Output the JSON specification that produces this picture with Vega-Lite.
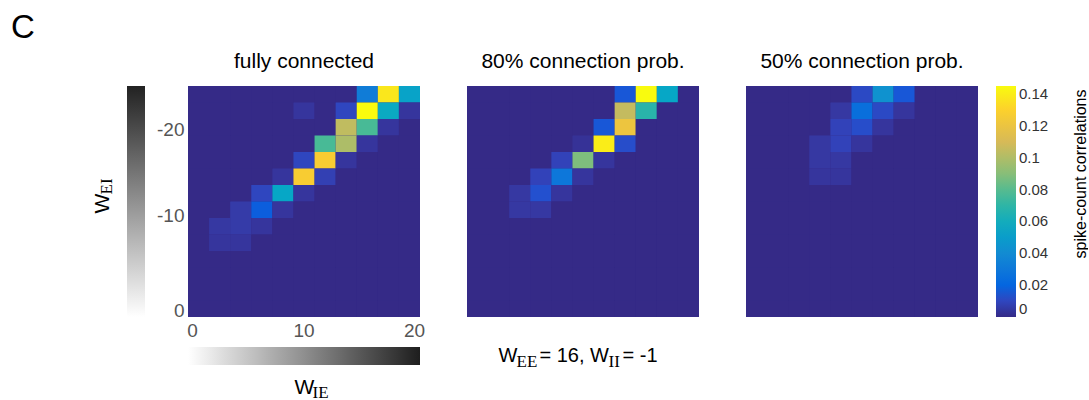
{
"$schema": "https://vega.github.io/schema/vega-lite/v6.json",
"padding": {"left": 11, "top": 12, "right": 0, "bottom": 0},
"background": "white",
"config": {"font": "Liberation Sans", "view": {"stroke": null, "fill": "#352a87"}, "axis": {"grid": false}},
"title": {"text": "C", "anchor": "start", "fontSize": 33, "fontWeight": "normal", "color": "#000000", "dx": -80, "dy": 42, "baseline": "alphabetic", "offset": 22},
"datasets": {
"full": [
{"ie":0,"ei":-26,"c":0},{"ie":2,"ei":-26,"c":0},{"ie":4,"ei":-26,"c":0},{"ie":6,"ei":-26,"c":0},{"ie":8,"ei":-26,"c":0},{"ie":10,"ei":-26,"c":0},{"ie":12,"ei":-26,"c":0},{"ie":14,"ei":-26,"c":0},{"ie":16,"ei":-26,"c":0.032},{"ie":18,"ei":-26,"c":0.138},{"ie":20,"ei":-26,"c":0.053},
{"ie":0,"ei":-24,"c":0},{"ie":2,"ei":-24,"c":0},{"ie":4,"ei":-24,"c":0},{"ie":6,"ei":-24,"c":0},{"ie":8,"ei":-24,"c":0},{"ie":10,"ei":-24,"c":0.004},{"ie":12,"ei":-24,"c":0},{"ie":14,"ei":-24,"c":0.01},{"ie":16,"ei":-24,"c":0.145},{"ie":18,"ei":-24,"c":0.057},{"ie":20,"ei":-24,"c":0.004},
{"ie":0,"ei":-22,"c":0},{"ie":2,"ei":-22,"c":0},{"ie":4,"ei":-22,"c":0},{"ie":6,"ei":-22,"c":0},{"ie":8,"ei":-22,"c":0},{"ie":10,"ei":-22,"c":0},{"ie":12,"ei":-22,"c":0},{"ie":14,"ei":-22,"c":0.104},{"ie":16,"ei":-22,"c":0.077},{"ie":18,"ei":-22,"c":0.004},{"ie":20,"ei":-22,"c":0},
{"ie":0,"ei":-20,"c":0},{"ie":2,"ei":-20,"c":0},{"ie":4,"ei":-20,"c":0},{"ie":6,"ei":-20,"c":0},{"ie":8,"ei":-20,"c":0},{"ie":10,"ei":-20,"c":0},{"ie":12,"ei":-20,"c":0.077},{"ie":14,"ei":-20,"c":0.099},{"ie":16,"ei":-20,"c":0.004},{"ie":18,"ei":-20,"c":0},{"ie":20,"ei":-20,"c":0},
{"ie":0,"ei":-18,"c":0},{"ie":2,"ei":-18,"c":0},{"ie":4,"ei":-18,"c":0},{"ie":6,"ei":-18,"c":0},{"ie":8,"ei":-18,"c":0},{"ie":10,"ei":-18,"c":0.01},{"ie":12,"ei":-18,"c":0.127},{"ie":14,"ei":-18,"c":0.004},{"ie":16,"ei":-18,"c":0},{"ie":18,"ei":-18,"c":0},{"ie":20,"ei":-18,"c":0},
{"ie":0,"ei":-16,"c":0},{"ie":2,"ei":-16,"c":0},{"ie":4,"ei":-16,"c":0},{"ie":6,"ei":-16,"c":0},{"ie":8,"ei":-16,"c":0.004},{"ie":10,"ei":-16,"c":0.127},{"ie":12,"ei":-16,"c":0.008},{"ie":14,"ei":-16,"c":0},{"ie":16,"ei":-16,"c":0},{"ie":18,"ei":-16,"c":0},{"ie":20,"ei":-16,"c":0},
{"ie":0,"ei":-14,"c":0},{"ie":2,"ei":-14,"c":0},{"ie":4,"ei":-14,"c":0},{"ie":6,"ei":-14,"c":0.01},{"ie":8,"ei":-14,"c":0.055},{"ie":10,"ei":-14,"c":0.004},{"ie":12,"ei":-14,"c":0},{"ie":14,"ei":-14,"c":0},{"ie":16,"ei":-14,"c":0},{"ie":18,"ei":-14,"c":0},{"ie":20,"ei":-14,"c":0},
{"ie":0,"ei":-12,"c":0},{"ie":2,"ei":-12,"c":0},{"ie":4,"ei":-12,"c":0.006},{"ie":6,"ei":-12,"c":0.017},{"ie":8,"ei":-12,"c":0.004},{"ie":10,"ei":-12,"c":0},{"ie":12,"ei":-12,"c":0},{"ie":14,"ei":-12,"c":0},{"ie":16,"ei":-12,"c":0},{"ie":18,"ei":-12,"c":0},{"ie":20,"ei":-12,"c":0},
{"ie":0,"ei":-10,"c":0},{"ie":2,"ei":-10,"c":0.005},{"ie":4,"ei":-10,"c":0.006},{"ie":6,"ei":-10,"c":0.004},{"ie":8,"ei":-10,"c":0},{"ie":10,"ei":-10,"c":0},{"ie":12,"ei":-10,"c":0},{"ie":14,"ei":-10,"c":0},{"ie":16,"ei":-10,"c":0},{"ie":18,"ei":-10,"c":0},{"ie":20,"ei":-10,"c":0},
{"ie":0,"ei":-8,"c":0},{"ie":2,"ei":-8,"c":0.004},{"ie":4,"ei":-8,"c":0.004},{"ie":6,"ei":-8,"c":0},{"ie":8,"ei":-8,"c":0},{"ie":10,"ei":-8,"c":0},{"ie":12,"ei":-8,"c":0},{"ie":14,"ei":-8,"c":0},{"ie":16,"ei":-8,"c":0},{"ie":18,"ei":-8,"c":0},{"ie":20,"ei":-8,"c":0},
{"ie":0,"ei":-6,"c":0},{"ie":2,"ei":-6,"c":0},{"ie":4,"ei":-6,"c":0},{"ie":6,"ei":-6,"c":0},{"ie":8,"ei":-6,"c":0},{"ie":10,"ei":-6,"c":0},{"ie":12,"ei":-6,"c":0},{"ie":14,"ei":-6,"c":0},{"ie":16,"ei":-6,"c":0},{"ie":18,"ei":-6,"c":0},{"ie":20,"ei":-6,"c":0},
{"ie":0,"ei":-4,"c":0},{"ie":2,"ei":-4,"c":0},{"ie":4,"ei":-4,"c":0},{"ie":6,"ei":-4,"c":0},{"ie":8,"ei":-4,"c":0},{"ie":10,"ei":-4,"c":0},{"ie":12,"ei":-4,"c":0},{"ie":14,"ei":-4,"c":0},{"ie":16,"ei":-4,"c":0},{"ie":18,"ei":-4,"c":0},{"ie":20,"ei":-4,"c":0},
{"ie":0,"ei":-2,"c":0},{"ie":2,"ei":-2,"c":0},{"ie":4,"ei":-2,"c":0},{"ie":6,"ei":-2,"c":0},{"ie":8,"ei":-2,"c":0},{"ie":10,"ei":-2,"c":0},{"ie":12,"ei":-2,"c":0},{"ie":14,"ei":-2,"c":0},{"ie":16,"ei":-2,"c":0},{"ie":18,"ei":-2,"c":0},{"ie":20,"ei":-2,"c":0},
{"ie":0,"ei":0,"c":0},{"ie":2,"ei":0,"c":0},{"ie":4,"ei":0,"c":0},{"ie":6,"ei":0,"c":0},{"ie":8,"ei":0,"c":0},{"ie":10,"ei":0,"c":0},{"ie":12,"ei":0,"c":0},{"ie":14,"ei":0,"c":0},{"ie":16,"ei":0,"c":0},{"ie":18,"ei":0,"c":0},{"ie":20,"ei":0,"c":0}
],
"p80": [
{"ie":0,"ei":-26,"c":0},{"ie":2,"ei":-26,"c":0},{"ie":4,"ei":-26,"c":0},{"ie":6,"ei":-26,"c":0},{"ie":8,"ei":-26,"c":0},{"ie":10,"ei":-26,"c":0},{"ie":12,"ei":-26,"c":0},{"ie":14,"ei":-26,"c":0.015},{"ie":16,"ei":-26,"c":0.145},{"ie":18,"ei":-26,"c":0.055},{"ie":20,"ei":-26,"c":0},
{"ie":0,"ei":-24,"c":0},{"ie":2,"ei":-24,"c":0},{"ie":4,"ei":-24,"c":0},{"ie":6,"ei":-24,"c":0},{"ie":8,"ei":-24,"c":0},{"ie":10,"ei":-24,"c":0},{"ie":12,"ei":-24,"c":0},{"ie":14,"ei":-24,"c":0.105},{"ie":16,"ei":-24,"c":0.068},{"ie":18,"ei":-24,"c":0},{"ie":20,"ei":-24,"c":0},
{"ie":0,"ei":-22,"c":0},{"ie":2,"ei":-22,"c":0},{"ie":4,"ei":-22,"c":0},{"ie":6,"ei":-22,"c":0},{"ie":8,"ei":-22,"c":0},{"ie":10,"ei":-22,"c":0},{"ie":12,"ei":-22,"c":0.015},{"ie":14,"ei":-22,"c":0.121},{"ie":16,"ei":-22,"c":0},{"ie":18,"ei":-22,"c":0},{"ie":20,"ei":-22,"c":0},
{"ie":0,"ei":-20,"c":0},{"ie":2,"ei":-20,"c":0},{"ie":4,"ei":-20,"c":0},{"ie":6,"ei":-20,"c":0},{"ie":8,"ei":-20,"c":0},{"ie":10,"ei":-20,"c":0.003},{"ie":12,"ei":-20,"c":0.14},{"ie":14,"ei":-20,"c":0.012},{"ie":16,"ei":-20,"c":0},{"ie":18,"ei":-20,"c":0},{"ie":20,"ei":-20,"c":0},
{"ie":0,"ei":-18,"c":0},{"ie":2,"ei":-18,"c":0},{"ie":4,"ei":-18,"c":0},{"ie":6,"ei":-18,"c":0},{"ie":8,"ei":-18,"c":0.009},{"ie":10,"ei":-18,"c":0.088},{"ie":12,"ei":-18,"c":0.004},{"ie":14,"ei":-18,"c":0},{"ie":16,"ei":-18,"c":0},{"ie":18,"ei":-18,"c":0},{"ie":20,"ei":-18,"c":0},
{"ie":0,"ei":-16,"c":0},{"ie":2,"ei":-16,"c":0},{"ie":4,"ei":-16,"c":0},{"ie":6,"ei":-16,"c":0.009},{"ie":8,"ei":-16,"c":0.029},{"ie":10,"ei":-16,"c":0.004},{"ie":12,"ei":-16,"c":0},{"ie":14,"ei":-16,"c":0},{"ie":16,"ei":-16,"c":0},{"ie":18,"ei":-16,"c":0},{"ie":20,"ei":-16,"c":0},
{"ie":0,"ei":-14,"c":0},{"ie":2,"ei":-14,"c":0},{"ie":4,"ei":-14,"c":0.005},{"ie":6,"ei":-14,"c":0.013},{"ie":8,"ei":-14,"c":0.004},{"ie":10,"ei":-14,"c":0},{"ie":12,"ei":-14,"c":0},{"ie":14,"ei":-14,"c":0},{"ie":16,"ei":-14,"c":0},{"ie":18,"ei":-14,"c":0},{"ie":20,"ei":-14,"c":0},
{"ie":0,"ei":-12,"c":0},{"ie":2,"ei":-12,"c":0},{"ie":4,"ei":-12,"c":0.005},{"ie":6,"ei":-12,"c":0.005},{"ie":8,"ei":-12,"c":0},{"ie":10,"ei":-12,"c":0},{"ie":12,"ei":-12,"c":0},{"ie":14,"ei":-12,"c":0},{"ie":16,"ei":-12,"c":0},{"ie":18,"ei":-12,"c":0},{"ie":20,"ei":-12,"c":0},
{"ie":0,"ei":-10,"c":0},{"ie":2,"ei":-10,"c":0},{"ie":4,"ei":-10,"c":0},{"ie":6,"ei":-10,"c":0},{"ie":8,"ei":-10,"c":0},{"ie":10,"ei":-10,"c":0},{"ie":12,"ei":-10,"c":0},{"ie":14,"ei":-10,"c":0},{"ie":16,"ei":-10,"c":0},{"ie":18,"ei":-10,"c":0},{"ie":20,"ei":-10,"c":0},
{"ie":0,"ei":-8,"c":0},{"ie":2,"ei":-8,"c":0},{"ie":4,"ei":-8,"c":0},{"ie":6,"ei":-8,"c":0},{"ie":8,"ei":-8,"c":0},{"ie":10,"ei":-8,"c":0},{"ie":12,"ei":-8,"c":0},{"ie":14,"ei":-8,"c":0},{"ie":16,"ei":-8,"c":0},{"ie":18,"ei":-8,"c":0},{"ie":20,"ei":-8,"c":0},
{"ie":0,"ei":-6,"c":0},{"ie":2,"ei":-6,"c":0},{"ie":4,"ei":-6,"c":0},{"ie":6,"ei":-6,"c":0},{"ie":8,"ei":-6,"c":0},{"ie":10,"ei":-6,"c":0},{"ie":12,"ei":-6,"c":0},{"ie":14,"ei":-6,"c":0},{"ie":16,"ei":-6,"c":0},{"ie":18,"ei":-6,"c":0},{"ie":20,"ei":-6,"c":0},
{"ie":0,"ei":-4,"c":0},{"ie":2,"ei":-4,"c":0},{"ie":4,"ei":-4,"c":0},{"ie":6,"ei":-4,"c":0},{"ie":8,"ei":-4,"c":0},{"ie":10,"ei":-4,"c":0},{"ie":12,"ei":-4,"c":0},{"ie":14,"ei":-4,"c":0},{"ie":16,"ei":-4,"c":0},{"ie":18,"ei":-4,"c":0},{"ie":20,"ei":-4,"c":0},
{"ie":0,"ei":-2,"c":0},{"ie":2,"ei":-2,"c":0},{"ie":4,"ei":-2,"c":0},{"ie":6,"ei":-2,"c":0},{"ie":8,"ei":-2,"c":0},{"ie":10,"ei":-2,"c":0},{"ie":12,"ei":-2,"c":0},{"ie":14,"ei":-2,"c":0},{"ie":16,"ei":-2,"c":0},{"ie":18,"ei":-2,"c":0},{"ie":20,"ei":-2,"c":0},
{"ie":0,"ei":0,"c":0},{"ie":2,"ei":0,"c":0},{"ie":4,"ei":0,"c":0},{"ie":6,"ei":0,"c":0},{"ie":8,"ei":0,"c":0},{"ie":10,"ei":0,"c":0},{"ie":12,"ei":0,"c":0},{"ie":14,"ei":0,"c":0},{"ie":16,"ei":0,"c":0},{"ie":18,"ei":0,"c":0},{"ie":20,"ei":0,"c":0}
],
"p50": [
{"ie":0,"ei":-26,"c":0},{"ie":2,"ei":-26,"c":0},{"ie":4,"ei":-26,"c":0},{"ie":6,"ei":-26,"c":0},{"ie":8,"ei":-26,"c":0},{"ie":10,"ei":-26,"c":0.011},{"ie":12,"ei":-26,"c":0.044},{"ie":14,"ei":-26,"c":0.015},{"ie":16,"ei":-26,"c":0},{"ie":18,"ei":-26,"c":0},{"ie":20,"ei":-26,"c":0},
{"ie":0,"ei":-24,"c":0},{"ie":2,"ei":-24,"c":0},{"ie":4,"ei":-24,"c":0},{"ie":6,"ei":-24,"c":0},{"ie":8,"ei":-24,"c":0.005},{"ie":10,"ei":-24,"c":0.025},{"ie":12,"ei":-24,"c":0.011},{"ie":14,"ei":-24,"c":0.004},{"ie":16,"ei":-24,"c":0},{"ie":18,"ei":-24,"c":0},{"ie":20,"ei":-24,"c":0},
{"ie":0,"ei":-22,"c":0},{"ie":2,"ei":-22,"c":0},{"ie":4,"ei":-22,"c":0},{"ie":6,"ei":-22,"c":0},{"ie":8,"ei":-22,"c":0.009},{"ie":10,"ei":-22,"c":0.012},{"ie":12,"ei":-22,"c":0.004},{"ie":14,"ei":-22,"c":0},{"ie":16,"ei":-22,"c":0},{"ie":18,"ei":-22,"c":0},{"ie":20,"ei":-22,"c":0},
{"ie":0,"ei":-20,"c":0},{"ie":2,"ei":-20,"c":0},{"ie":4,"ei":-20,"c":0},{"ie":6,"ei":-20,"c":0.005},{"ie":8,"ei":-20,"c":0.009},{"ie":10,"ei":-20,"c":0.004},{"ie":12,"ei":-20,"c":0},{"ie":14,"ei":-20,"c":0},{"ie":16,"ei":-20,"c":0},{"ie":18,"ei":-20,"c":0},{"ie":20,"ei":-20,"c":0},
{"ie":0,"ei":-18,"c":0},{"ie":2,"ei":-18,"c":0},{"ie":4,"ei":-18,"c":0},{"ie":6,"ei":-18,"c":0.005},{"ie":8,"ei":-18,"c":0.005},{"ie":10,"ei":-18,"c":0},{"ie":12,"ei":-18,"c":0},{"ie":14,"ei":-18,"c":0},{"ie":16,"ei":-18,"c":0},{"ie":18,"ei":-18,"c":0},{"ie":20,"ei":-18,"c":0},
{"ie":0,"ei":-16,"c":0},{"ie":2,"ei":-16,"c":0},{"ie":4,"ei":-16,"c":0},{"ie":6,"ei":-16,"c":0.004},{"ie":8,"ei":-16,"c":0.004},{"ie":10,"ei":-16,"c":0},{"ie":12,"ei":-16,"c":0},{"ie":14,"ei":-16,"c":0},{"ie":16,"ei":-16,"c":0},{"ie":18,"ei":-16,"c":0},{"ie":20,"ei":-16,"c":0},
{"ie":0,"ei":-14,"c":0},{"ie":2,"ei":-14,"c":0},{"ie":4,"ei":-14,"c":0},{"ie":6,"ei":-14,"c":0},{"ie":8,"ei":-14,"c":0},{"ie":10,"ei":-14,"c":0},{"ie":12,"ei":-14,"c":0},{"ie":14,"ei":-14,"c":0},{"ie":16,"ei":-14,"c":0},{"ie":18,"ei":-14,"c":0},{"ie":20,"ei":-14,"c":0},
{"ie":0,"ei":-12,"c":0},{"ie":2,"ei":-12,"c":0},{"ie":4,"ei":-12,"c":0},{"ie":6,"ei":-12,"c":0},{"ie":8,"ei":-12,"c":0},{"ie":10,"ei":-12,"c":0},{"ie":12,"ei":-12,"c":0},{"ie":14,"ei":-12,"c":0},{"ie":16,"ei":-12,"c":0},{"ie":18,"ei":-12,"c":0},{"ie":20,"ei":-12,"c":0},
{"ie":0,"ei":-10,"c":0},{"ie":2,"ei":-10,"c":0},{"ie":4,"ei":-10,"c":0},{"ie":6,"ei":-10,"c":0},{"ie":8,"ei":-10,"c":0},{"ie":10,"ei":-10,"c":0},{"ie":12,"ei":-10,"c":0},{"ie":14,"ei":-10,"c":0},{"ie":16,"ei":-10,"c":0},{"ie":18,"ei":-10,"c":0},{"ie":20,"ei":-10,"c":0},
{"ie":0,"ei":-8,"c":0},{"ie":2,"ei":-8,"c":0},{"ie":4,"ei":-8,"c":0},{"ie":6,"ei":-8,"c":0},{"ie":8,"ei":-8,"c":0},{"ie":10,"ei":-8,"c":0},{"ie":12,"ei":-8,"c":0},{"ie":14,"ei":-8,"c":0},{"ie":16,"ei":-8,"c":0},{"ie":18,"ei":-8,"c":0},{"ie":20,"ei":-8,"c":0},
{"ie":0,"ei":-6,"c":0},{"ie":2,"ei":-6,"c":0},{"ie":4,"ei":-6,"c":0},{"ie":6,"ei":-6,"c":0},{"ie":8,"ei":-6,"c":0},{"ie":10,"ei":-6,"c":0},{"ie":12,"ei":-6,"c":0},{"ie":14,"ei":-6,"c":0},{"ie":16,"ei":-6,"c":0},{"ie":18,"ei":-6,"c":0},{"ie":20,"ei":-6,"c":0},
{"ie":0,"ei":-4,"c":0},{"ie":2,"ei":-4,"c":0},{"ie":4,"ei":-4,"c":0},{"ie":6,"ei":-4,"c":0},{"ie":8,"ei":-4,"c":0},{"ie":10,"ei":-4,"c":0},{"ie":12,"ei":-4,"c":0},{"ie":14,"ei":-4,"c":0},{"ie":16,"ei":-4,"c":0},{"ie":18,"ei":-4,"c":0},{"ie":20,"ei":-4,"c":0},
{"ie":0,"ei":-2,"c":0},{"ie":2,"ei":-2,"c":0},{"ie":4,"ei":-2,"c":0},{"ie":6,"ei":-2,"c":0},{"ie":8,"ei":-2,"c":0},{"ie":10,"ei":-2,"c":0},{"ie":12,"ei":-2,"c":0},{"ie":14,"ei":-2,"c":0},{"ie":16,"ei":-2,"c":0},{"ie":18,"ei":-2,"c":0},{"ie":20,"ei":-2,"c":0},
{"ie":0,"ei":0,"c":0},{"ie":2,"ei":0,"c":0},{"ie":4,"ei":0,"c":0},{"ie":6,"ei":0,"c":0},{"ie":8,"ei":0,"c":0},{"ie":10,"ei":0,"c":0},{"ie":12,"ei":0,"c":0},{"ie":14,"ei":0,"c":0},{"ie":16,"ei":0,"c":0},{"ie":18,"ei":0,"c":0},{"ie":20,"ei":0,"c":0}
]
},
"spacing": 47,
"bounds": "flush",
"resolve": {"scale": {"fill": "independent", "stroke": "independent"}, "legend": {"fill": "independent", "stroke": "independent"}},
"hconcat": [
{
"width": 232, "height": 231,
"title": {"text": "fully connected", "fontSize": 21, "fontWeight": "normal", "color": "#000000", "anchor": "middle", "frame": "group", "baseline": "alphabetic", "offset": -3},
"data": {"name": "full"},
"resolve": {"scale": {"x": "independent", "y": "independent"}},
"layer": [
{"mark": {"type": "rect"},
 "encoding": {
  "x": {"field": "ie", "type": "ordinal", "scale": {"domain": [0,2,4,6,8,10,12,14,16,18,20], "paddingInner": 0, "paddingOuter": 0},
        "axis": {"orient": "bottom", "values": [0,10,20], "labelAngle": 0, "labelFontSize": 19, "labelColor": "#555555", "ticks": false, "tickSize": 0, "domain": false, "labelPadding": 4,
                 "labelOffset": {"condition": [{"test": "datum.value === 0", "value": -6}, {"test": "datum.value === 20", "value": 5}], "value": 0},
                 "title": "W", "titleFontSize": 21, "titleFontWeight": "normal", "titleColor": "#000000", "titleX": 106, "titleY": 76, "titleAlign": "left", "titleBaseline": "alphabetic", "titleAngle": 0}},
  "y": {"field": "ei", "type": "ordinal", "scale": {"domain": [-26,-24,-22,-20,-18,-16,-14,-12,-10,-8,-6,-4,-2,0], "paddingInner": 0, "paddingOuter": 0},
        "axis": {"orient": "left", "values": [0,-10,-20], "labelFontSize": 19, "labelColor": "#555555", "ticks": false, "tickSize": 0, "domain": false, "labelPadding": 4,
                 "labelOffset": {"condition": [{"test": "datum.value === -10", "value": -10}, {"test": "datum.value === -20", "value": -14}], "value": 2},
                 "title": "W", "titleFontSize": 21, "titleFontWeight": "normal", "titleColor": "#000000", "titleX": -80, "titleY": 127, "titleAlign": "left", "titleBaseline": "alphabetic", "titleAngle": 270}},
  "color": {"field": "c", "type": "quantitative",
            "scale": {"domain": [0,0.0046,0.0092,0.0138,0.0184,0.0368,0.0552,0.0737,0.0921,0.1105,0.1289,0.145], "range": ["#352a87","#3637a0","#3243ba","#2053d4","#0363e1","#1485d4","#06a7c6","#38b99e","#92bf73","#d9ba56","#fcce2e","#f9fb0e"], "interpolate": "rgb"},
            "legend": {"orient": "none", "legendX": 808, "legendY": 0, "direction": "vertical", "gradientLength": 231, "gradientThickness": 20, "gradientStrokeWidth": 0, "values": [0,0.02,0.04,0.06,0.08,0.1,0.12,0.14], "format": ".2~f", "labelFontSize": 15, "labelColor": "#333333", "labelOffset": 3, "title": null}}
 }},
{"mark": {"type": "rect", "fillOpacity": 0, "strokeOpacity": 0},
 "encoding": {
  "x": {"field": "ie", "type": "ordinal", "scale": {"domain": [0,2,4,6,8,10,12,14,16,18,20], "paddingInner": 0, "paddingOuter": 0},
        "axis": {"orient": "top", "labels": false, "ticks": false, "domain": false, "title": "IE", "titleFont": "Liberation Serif", "titleFontSize": 17, "titleFontWeight": "normal", "titleColor": "#000000", "titleX": 124, "titleY": 311, "titleAlign": "left", "titleBaseline": "alphabetic", "titleAngle": 0}},
  "y": {"field": "ei", "type": "ordinal", "scale": {"domain": [-26,-24,-22,-20,-18,-16,-14,-12,-10,-8,-6,-4,-2,0], "paddingInner": 0, "paddingOuter": 0},
        "axis": {"orient": "right", "labels": false, "ticks": false, "domain": false, "title": "EI", "titleFont": "Liberation Serif", "titleFontSize": 17, "titleFontWeight": "normal", "titleColor": "#000000", "titleX": -309, "titleY": 108, "titleAlign": "left", "titleBaseline": "alphabetic", "titleAngle": 270}},
  "fill": {"field": "ei", "type": "quantitative", "scale": {"domain": [0, -26], "range": ["#ffffff", "#222222"], "interpolate": "rgb"},
           "legend": {"orient": "none", "legendX": -61, "legendY": 0, "direction": "vertical", "gradientLength": 231, "gradientThickness": 18, "gradientStrokeWidth": 0, "title": null, "labelExpr": "''"}},
  "stroke": {"field": "ie", "type": "quantitative", "scale": {"domain": [0, 20], "range": ["#ffffff", "#1e1e1e"], "interpolate": "rgb"},
           "legend": {"orient": "none", "legendX": 0, "legendY": 261, "direction": "horizontal", "gradientLength": 232, "gradientThickness": 18, "gradientStrokeWidth": 0, "title": null, "labelExpr": "''"}}
 }}
]
},
{
"width": 232, "height": 231,
"title": {"text": "80% connection prob.", "fontSize": 21, "fontWeight": "normal", "color": "#000000", "anchor": "middle", "frame": "group", "baseline": "alphabetic", "offset": -3},
"data": {"name": "p80"},
"resolve": {"scale": {"x": "independent", "y": "independent"}},
"layer": [
{"mark": {"type": "rect"},
 "encoding": {
  "x": {"field": "ie", "type": "ordinal", "scale": {"domain": [0,2,4,6,8,10,12,14,16,18,20], "paddingInner": 0, "paddingOuter": 0},
        "axis": {"orient": "bottom", "labels": false, "ticks": false, "domain": false, "title": "W", "titleFontSize": 20, "titleFontWeight": "normal", "titleColor": "#000000", "titleX": 31, "titleY": 44, "titleAlign": "left", "titleBaseline": "alphabetic", "titleAngle": 0}},
  "y": {"field": "ei", "type": "ordinal", "scale": {"domain": [-26,-24,-22,-20,-18,-16,-14,-12,-10,-8,-6,-4,-2,0], "paddingInner": 0, "paddingOuter": 0},
        "axis": {"orient": "left", "labels": false, "ticks": false, "domain": false, "title": "EE", "titleFont": "Liberation Serif", "titleFontSize": 17, "titleFontWeight": "normal", "titleColor": "#000000", "titleX": 49, "titleY": 280, "titleAlign": "left", "titleBaseline": "alphabetic", "titleAngle": 0}},
  "color": {"field": "c", "type": "quantitative",
            "scale": {"domain": [0,0.0046,0.0092,0.0138,0.0184,0.0368,0.0552,0.0737,0.0921,0.1105,0.1289,0.145], "range": ["#352a87","#3637a0","#3243ba","#2053d4","#0363e1","#1485d4","#06a7c6","#38b99e","#92bf73","#d9ba56","#fcce2e","#f9fb0e"], "interpolate": "rgb"},
            "legend": {"orient": "none", "legendX": 808, "legendY": 0, "direction": "vertical", "gradientLength": 231, "gradientThickness": 20, "gradientStrokeWidth": 0, "values": [0,0.02,0.04,0.06,0.08,0.1,0.12,0.14], "format": ".2~f", "labelFontSize": 15, "labelColor": "#333333", "labelOffset": 3, "title": null}}
 }},
{"mark": {"type": "rect", "opacity": 0},
 "encoding": {
  "x": {"field": "ie", "type": "ordinal", "scale": {"domain": [0,2,4,6,8,10,12,14,16,18,20], "paddingInner": 0, "paddingOuter": 0},
        "axis": {"orient": "top", "labels": false, "ticks": false, "domain": false, "title": "= 16, W", "titleFontSize": 20, "titleFontWeight": "normal", "titleColor": "#000000", "titleX": 72, "titleY": 275, "titleAlign": "left", "titleBaseline": "alphabetic", "titleAngle": 0}},
  "y": {"field": "ei", "type": "ordinal", "scale": {"domain": [-26,-24,-22,-20,-18,-16,-14,-12,-10,-8,-6,-4,-2,0], "paddingInner": 0, "paddingOuter": 0},
        "axis": {"orient": "right", "labels": false, "ticks": false, "domain": false, "title": "II", "titleFont": "Liberation Serif", "titleFontSize": 17, "titleFontWeight": "normal", "titleColor": "#000000", "titleX": -91, "titleY": 280, "titleAlign": "left", "titleBaseline": "alphabetic", "titleAngle": 0}}
 }},
{"mark": {"type": "rect", "opacity": 0},
 "encoding": {
  "x": {"field": "ie", "type": "ordinal", "scale": {"domain": [0,2,4,6,8,10,12,14,16,18,20], "paddingInner": 0, "paddingOuter": 0},
        "axis": {"orient": "bottom", "labels": false, "ticks": false, "domain": false, "title": "= -1", "titleFontSize": 20, "titleFontWeight": "normal", "titleColor": "#000000", "titleX": 155, "titleY": 44, "titleAlign": "left", "titleBaseline": "alphabetic", "titleAngle": 0}},
  "y": {"field": "ei", "type": "ordinal", "scale": {"domain": [-26,-24,-22,-20,-18,-16,-14,-12,-10,-8,-6,-4,-2,0], "paddingInner": 0, "paddingOuter": 0}, "axis": null}
 }}
]
},
{
"width": 232, "height": 231,
"title": {"text": "50% connection prob.", "fontSize": 21, "fontWeight": "normal", "color": "#000000", "anchor": "middle", "frame": "group", "baseline": "alphabetic", "offset": -3},
"data": {"name": "p50"},
"mark": {"type": "rect"},
"encoding": {
  "x": {"field": "ie", "type": "ordinal", "scale": {"domain": [0,2,4,6,8,10,12,14,16,18,20], "paddingInner": 0, "paddingOuter": 0}, "axis": null},
  "y": {"field": "ei", "type": "ordinal", "scale": {"domain": [-26,-24,-22,-20,-18,-16,-14,-12,-10,-8,-6,-4,-2,0], "paddingInner": 0, "paddingOuter": 0},
        "axis": {"orient": "right", "labels": false, "ticks": false, "domain": false, "title": "spike-count correlations", "titleFontSize": 16, "titleFontWeight": "normal", "titleColor": "#000000", "titleX": 107, "titleY": 3, "titleAlign": "right", "titleBaseline": "alphabetic", "titleAngle": 270}},
  "color": {"field": "c", "type": "quantitative",
            "scale": {"domain": [0,0.0046,0.0092,0.0138,0.0184,0.0368,0.0552,0.0737,0.0921,0.1105,0.1289,0.145], "range": ["#352a87","#3637a0","#3243ba","#2053d4","#0363e1","#1485d4","#06a7c6","#38b99e","#92bf73","#d9ba56","#fcce2e","#f9fb0e"], "interpolate": "rgb"},
            "legend": {"orient": "none", "legendX": 808, "legendY": 0, "direction": "vertical", "gradientLength": 231, "gradientThickness": 20, "gradientStrokeWidth": 0, "values": [0,0.02,0.04,0.06,0.08,0.1,0.12,0.14], "format": ".2~f", "labelFontSize": 15, "labelColor": "#333333", "labelOffset": 3, "title": null}}
}
}
]
}
